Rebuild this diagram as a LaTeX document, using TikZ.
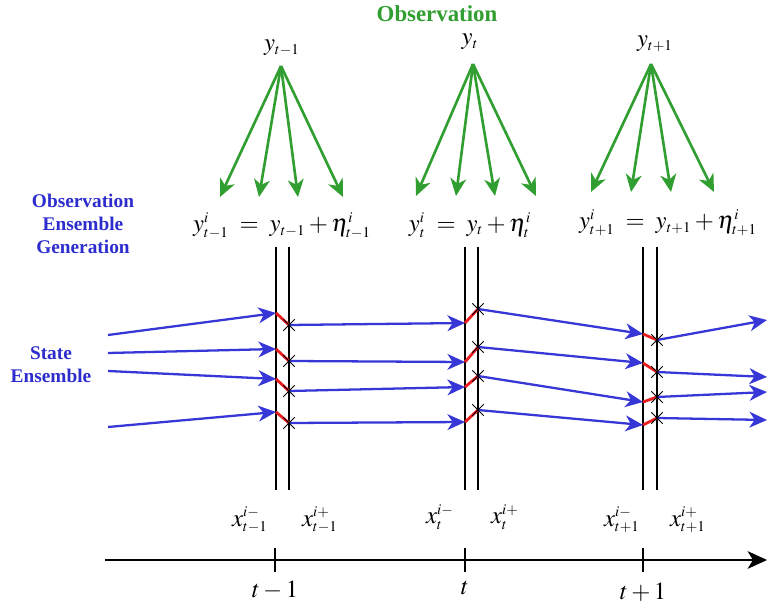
\documentclass[tikz,border=0pt]{standalone}
\usepackage{mathptmx}
\usepackage{fontspec}
\setmainfont{Liberation Serif}
\usepackage{xcolor}
\usepackage{tikz}
\usetikzlibrary{arrows.meta, shapes.misc}
\DeclareMathSizes{14}{14}{8.5}{6.5}
\definecolor{obsGreen}{RGB}{48, 158, 48}
\definecolor{ensBlue}{RGB}{55, 55, 215}
\definecolor{labBlue}{RGB}{45, 45, 205}
\definecolor{corrRed}{RGB}{235, 30, 30}

\tikzset{
  obsarrow/.style={draw=obsGreen, line width=1.5pt, -{Stealth[length=10pt, width=9pt, inset=3pt]}},
  statearrow/.style={draw=ensBlue, line width=1.3pt, -{Stealth[length=10pt, width=9pt, inset=3pt]}},
  update/.style={draw=corrRed, line width=1.6pt},
  xmark/.style={cross out, draw=black, line width=0.5pt, minimum size=6pt, inner sep=0pt},
  timeline/.style={draw=black, line width=0.9pt},
  mathlbl/.style={font=\fontsize{14}{16}\selectfont, inner sep=0pt},
  sidelbl/.style={font=\fontsize{11}{13}\selectfont\bfseries, text=labBlue, align=center}
}

\begin{document}
\begin{tikzpicture}[x=0.02cm, y=-0.02cm]
    \useasboundingbox (0,0) rectangle (767,604);

    \node[font=\fontsize{13}{15}\selectfont\bfseries, text=obsGreen] (obs) at (437,14) {Observation};
    \node[sidelbl] (oeg) at (83,224) {Observation\\Ensemble\\Generation};
    \node[sidelbl] (sens) at (51,365) {State\\Ensemble};

    % observations and their perturbations
    \node[mathlbl] (ya) at (282,48) {$y_{t-1}$};
    \node[mathlbl] (yb) at (470,42) {$y_{t}$};
    \node[mathlbl] (yc) at (655,44) {$y_{t+1}$};
    \coordinate (sa) at (281,66);
    \coordinate (sb) at (473,64);
    \coordinate (sc) at (651,64);
    \foreach \tx [count=\k] in {220,259,298,343}{
      \coordinate (ta\k) at (\tx,197);
      \draw[obsarrow] (sa) -- (ta\k);
    }
    \foreach \tx [count=\k] in {416,456,495,536}{
      \coordinate (tb\k) at (\tx,196);
      \draw[obsarrow] (sb) -- (tb\k);
    }
    \foreach \tx [count=\k] in {591,631,671,714}{
      \coordinate (tc\k) at (\tx,192);
      \draw[obsarrow] (sc) -- (tc\k);
    }
    \node[mathlbl] (eqa) at (282,226) {$y^{i}_{t-1} \;=\; y_{t-1} + \eta^{i}_{t-1}$};
    \node[mathlbl] (eqb) at (470,225) {$y^{i}_{t} \;=\; y_{t} + \eta^{i}_{t}$};
    \node[mathlbl] (eqc) at (668,223) {$y^{i}_{t+1} \;=\; y_{t+1} + \eta^{i}_{t+1}$};

    % analysis steps
    \foreach \lx in {276,289,465,478,643,657}
      \draw[timeline] (\lx,247) -- (\lx,490);

    % ensemble members
    \foreach \ya/\yb/\yc/\yd/\ye/\yf/\yg/\yh [count=\k] in
      {335/313/325/323/309/334/340/320, 353/349/361/362/347/363/372/377,
       371/379/391/387/376/402/397/392, 427/412/423/422/410/425/418/420}{
      \coordinate (m\k a) at (108,\ya);
      \coordinate (m\k b) at (276,\yb);
      \coordinate (m\k c) at (289,\yc);
      \coordinate (m\k d) at (465,\yd);
      \coordinate (m\k e) at (478,\ye);
      \coordinate (m\k f) at (643,\yf);
      \coordinate (m\k g) at (657,\yg);
      \coordinate (m\k h) at (767,\yh);
      \draw[statearrow] (m\k a) -- (m\k b);
      \draw[update] (m\k b) -- (m\k c);
      \draw[statearrow] (m\k c) -- (m\k d);
      \draw[update] (m\k d) -- (m\k e);
      \draw[statearrow] (m\k e) -- (m\k f);
      \draw[update] (m\k f) -- (m\k g);
      \draw[statearrow] (m\k g) -- (m\k h);
      \node[xmark] at (m\k c) {};
      \node[xmark] at (m\k e) {};
      \node[xmark] at (m\k g) {};
    }

    \node[mathlbl] (xam) at (250,520) {$x^{i-}_{t-1}$};
    \node[mathlbl] (xap) at (320,520) {$x^{i+}_{t-1}$};
    \node[mathlbl] (xbm) at (440,517) {$x^{i-}_{t}$};
    \node[mathlbl] (xbp) at (505,517) {$x^{i+}_{t}$};
    \node[mathlbl] (xcm) at (622,520) {$x^{i-}_{t+1}$};
    \node[mathlbl] (xcp) at (688,520) {$x^{i+}_{t+1}$};

    % time axis
    \coordinate (ax0) at (105,560);
    \coordinate (ax1) at (767,560);
    \draw[line width=1.4pt, -{Stealth[length=11pt, width=10pt, inset=3pt]}] (ax0) -- (ax1);
    \foreach \tx/\tl/\ty [count=\k] in {275/t-1/590, 465/t/588, 643/t+1/592}{
      \draw[line width=1pt] (\tx,548) -- (\tx,572);
      \node[mathlbl] (tick\k) at (\tx,\ty) {$\tl$};
    }
\end{tikzpicture}
\end{document}
